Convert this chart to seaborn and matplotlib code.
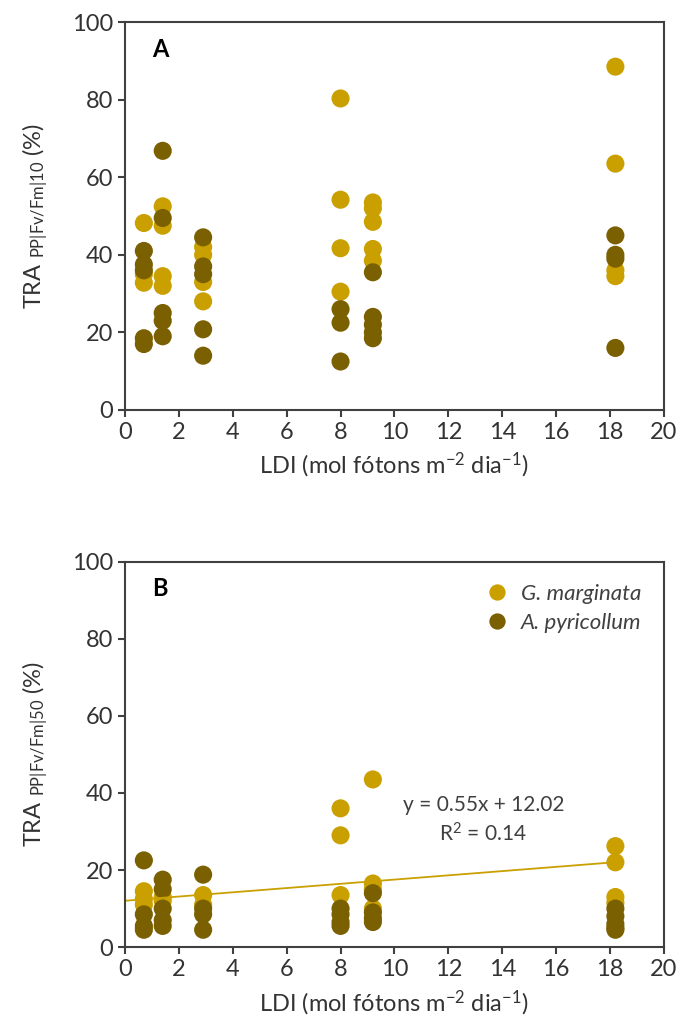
import numpy as np
import pandas as pd
import matplotlib
matplotlib.use("Agg")
import matplotlib.pyplot as plt
import seaborn as sns

# Panel A data (TRA PP|Fv/Fm|10)
a_gm_x = [0.7, 0.7, 0.7, 1.4, 1.4, 1.4, 1.4, 2.9, 2.9, 2.9, 2.9,
          8.0, 8.0, 8.0, 8.0, 9.2, 9.2, 9.2, 9.2, 9.2, 18.2, 18.2, 18.2, 18.2]
a_gm_y = [48.2, 35.0, 32.8, 52.5, 47.5, 34.5, 32.0, 42.0, 40.0, 33.0, 28.0,
          80.3, 54.2, 41.7, 30.5, 53.5, 52.0, 48.5, 41.5, 38.5, 88.5, 63.5, 36.0, 34.5]
a_ap_x = [0.7, 0.7, 0.7, 0.7, 0.7, 1.4, 1.4, 1.4, 1.4, 1.4, 2.9, 2.9, 2.9, 2.9, 2.9,
          8.0, 8.0, 8.0, 9.2, 9.2, 9.2, 9.2, 9.2, 18.2, 18.2, 18.2, 18.2]
a_ap_y = [41.0, 37.5, 36.0, 18.5, 17.0, 66.8, 49.5, 25.0, 23.0, 19.0, 44.5, 37.0, 35.0, 20.8, 14.0,
          26.0, 22.5, 12.5, 35.5, 24.0, 22.0, 20.0, 18.5, 45.0, 40.0, 39.0, 16.0]

# Panel B data (TRA PP|Fv/Fm|50)
b_gm_x = [0.7, 0.7, 0.7, 1.4, 1.4, 2.9, 2.9, 8.0, 8.0, 8.0, 9.2, 9.2, 9.2, 9.2,
          18.2, 18.2, 18.2, 18.2]
b_gm_y = [14.5, 12.5, 11.0, 13.0, 12.0, 13.5, 11.0, 36.0, 29.0, 13.5, 43.5, 16.5, 15.0, 10.0,
          26.2, 22.0, 13.0, 11.5]
b_ap_x = [0.7, 0.7, 0.7, 0.7, 1.4, 1.4, 1.4, 1.4, 1.4, 2.9, 2.9, 2.9, 2.9,
          8.0, 8.0, 8.0, 8.0, 9.2, 9.2, 9.2, 9.2, 18.2, 18.2, 18.2, 18.2, 18.2]
b_ap_y = [22.5, 8.5, 5.5, 4.5, 17.5, 15.0, 10.0, 7.0, 5.5, 18.8, 10.0, 8.5, 4.5,
          10.0, 8.5, 6.5, 5.5, 14.0, 9.0, 7.5, 6.5, 10.0, 8.0, 6.0, 5.0, 4.5]

# trendline in panel B
slope, intercept = 0.55, 12.02
trend_x = [0.0, 18.2]

species = ["G. marginata", "A. pyricollum"]
palette = {"G. marginata": "#C9A000", "A. pyricollum": "#7A6000"}

sns.set_style("white")
plt.rcParams["font.family"] = ["Lato", "DejaVu Sans"]
plt.rcParams["mathtext.default"] = "regular"


def make_df(gx, gy, ax_, ay):
    return pd.DataFrame({
        "x": gx + ax_,
        "y": gy + ay,
        "sp": [species[0]] * len(gx) + [species[1]] * len(ax_),
    })


df_a = make_df(a_gm_x, a_gm_y, a_ap_x, a_ap_y)
df_b = make_df(b_gm_x, b_gm_y, b_ap_x, b_ap_y)

fig = plt.figure(figsize=(6.83, 10.25), dpi=100)
ax1 = fig.add_axes([0.183, 0.600, 0.789, 0.3785])
ax2 = fig.add_axes([0.183, 0.0760, 0.789, 0.3760])

for ax, df, sub, letter in [(ax1, df_a, "10", "A"), (ax2, df_b, "50", "B")]:
    sns.scatterplot(data=df, x="x", y="y", hue="sp", palette=palette,
                    s=170, linewidth=0, ax=ax, legend=(letter == "B"))
    ax.set_xlim(0, 20)
    ax.set_ylim(0, 100)
    ax.set_xticks(np.arange(0, 21, 2))
    ax.set_yticks(np.arange(0, 101, 20))
    for s in ax.spines.values():
        s.set_color("#404040")
        s.set_linewidth(1.5)
    ax.tick_params(axis="both", which="major", direction="out", length=5,
                   width=1.5, color="#404040", labelsize=17, labelcolor="#333333",
                   bottom=True, left=True)
    ax.set_xlabel("LDI (mol fótons m$^{-2}$ dia$^{-1}$)", fontsize=17,
                  color="#333333", labelpad=6)
    ax.set_ylabel(r"TRA $_{PP|Fv/Fm|" + sub + "}$ (%)", fontsize=17,
                  color="#333333", labelpad=16)
    ax.text(1.3, 93, letter, fontsize=17, fontweight="bold", color="black",
            ha="center", va="center")

trend_y = [slope * v + intercept for v in trend_x]
sns.lineplot(x=trend_x, y=trend_y, color="#C9A000", linewidth=1.3, ax=ax2)
ax2.text(13.3, 37, "y = 0.55x + 12.02", fontsize=15, color="#404040", ha="center", va="center")
ax2.text(13.3, 29.5, "R$^2$ = 0.14", fontsize=15, color="#404040", ha="center", va="center")

leg = ax2.legend(loc="upper right", frameon=False, fontsize=16, handletextpad=0.1,
                 borderaxespad=0.6, markerscale=0.9, labelspacing=0.4)
for t in leg.get_texts():
    t.set_fontstyle("italic")
    t.set_color("#404040")

fig.savefig("out.png", dpi=100)
